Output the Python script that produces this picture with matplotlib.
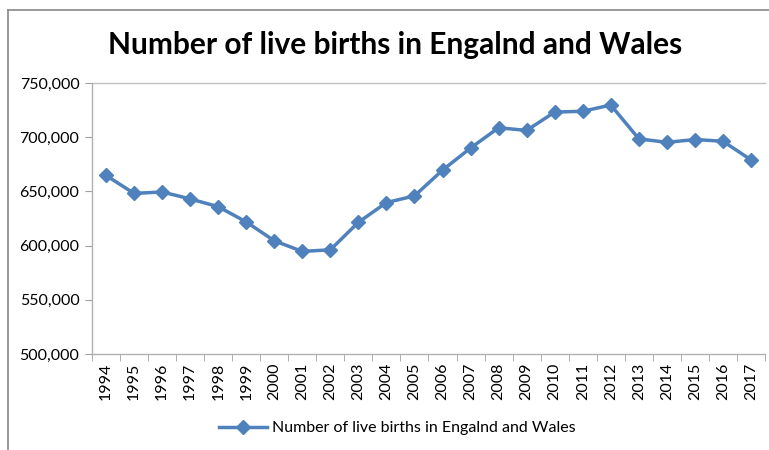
import numpy as np
import matplotlib.pyplot as plt
from matplotlib.lines import Line2D
from matplotlib.ticker import FuncFormatter

years = [str(y) for y in range(1994, 2018)]
births = [664726, 648138, 649485, 643095, 635901, 621872, 604441, 594634,
          596122, 621469, 639721, 645835, 669601, 690013, 708711, 706248,
          723165, 723913, 729674, 698512, 695233, 697852, 696271, 679106]
label = "Number of live births in Engalnd and Wales"

plt.rcParams['font.family'] = ['Lato', 'DejaVu Sans']

W, H = 769, 450
fig = plt.figure(figsize=(W / 100, H / 100), dpi=100)
ax = fig.add_axes([92 / W, 1 - 354 / H, (765 - 92) / W, (354 - 83) / H])

x = np.arange(len(years))
color = "#4F81BD"
ax.plot(x, births, color=color, linewidth=2.5, marker="D", markersize=7.5,
        label=label)

ax.set_xlim(-0.5, len(years) - 0.5)
ax.set_ylim(500000, 750000)
ax.set_yticks(np.arange(500000, 750001, 50000))
ax.yaxis.set_major_formatter(FuncFormatter(lambda v, p: f"{int(v):,}"))
ax.set_xticks(x)
ax.set_xticklabels(years, rotation=90)
ax.set_xticks(np.arange(-0.5, len(years), 1), minor=True)
ax.tick_params(axis="x", which="major", length=0, pad=6, labelsize=11.5)
ax.tick_params(axis="x", which="minor", length=5, color="#a0a0a0", direction="out")
ax.tick_params(axis="y", length=5, color="#a0a0a0", labelsize=11.5, pad=4)

ax.spines["right"].set_visible(False)
ax.spines["top"].set_visible(False)
for s in ["left", "bottom"]:
    ax.spines[s].set_color("#b0b0b0")
    ax.spines[s].set_linewidth(1)
ax.axhline(750000, color="#c0c0c0", linewidth=1, clip_on=False)

fig.text(395 / W, 1 - 45 / H, label, ha="center",
         va="center", fontsize=21.5, fontweight="bold")

leg = fig.legend(loc="center", bbox_to_anchor=(397 / W, 1 - 428 / H), frameon=False,
                 fontsize=11.5, handlelength=3.0, handletextpad=0.3)

# outer chart border
fig.add_artist(Line2D([8 / W, 8 / W], [0, 1 - 10 / H], color="#888888", linewidth=1.2,
                      transform=fig.transFigure))
fig.add_artist(Line2D([8 / W, 1], [1 - 10 / H, 1 - 10 / H], color="#888888", linewidth=1.2,
                      transform=fig.transFigure))

fig.savefig("out.png", dpi=100)
